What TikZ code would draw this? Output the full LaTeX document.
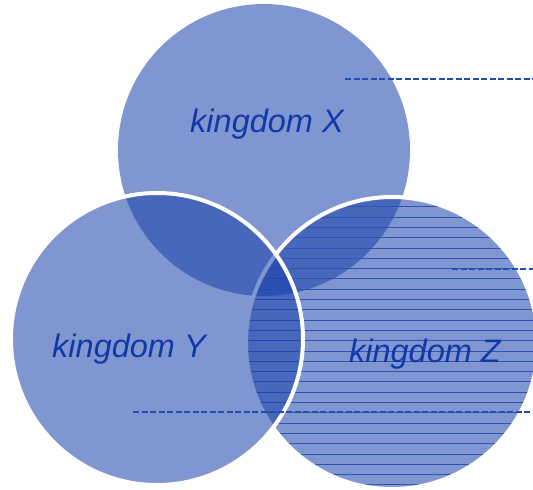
\documentclass[tikz,border=0pt]{standalone}
\usepackage{fontspec}
\setmainfont{Liberation Sans}
\usetikzlibrary{arrows.meta}

\definecolor{kingblue}{RGB}{24,64,170}
\definecolor{textblue}{RGB}{16,56,168}
\definecolor{leaderblue}{RGB}{36,76,178}

\tikzset{
  kingdom/.style={fill=kingblue, fill opacity=0.55},
  rim/.style={draw=white, line width=4pt},
  kinglabel/.style={text=textblue, font=\itshape\fontsize{32.5}{38}\selectfont},
  leader/.style={draw=leaderblue, line width=1.4pt, dash pattern=on 6pt off 2.5pt}
}

\begin{document}
\begin{tikzpicture}[x=1pt,y=-1pt]
            \clip (0,0) rectangle (533,490);

            % kingdom X
            \fill[kingdom] (264,150) circle (146pt);

            % kingdom Z, with its ruling
            \fill[kingdom] (392,343) circle (146pt);
            \begin{scope}
                \clip (392,343) circle (146pt);
                \foreach \k in {0,...,28}
                    \draw[kingblue!90, line width=0.8pt] (240,{206.7+10.3*\k}) -- (540,{206.7+10.3*\k});
            \end{scope}
            \draw[rim] (392,343) circle (146pt);

            % kingdom Y
            \fill[kingdom] (157,339) circle (146pt);
            \draw[rim] (157,339) circle (146pt);

            \node[kinglabel] (labx) at (267,124) {kingdom X};
            \node[kinglabel] (laby) at (129,349) {kingdom Y};
            \node[kinglabel] (labz) at (425,354) {kingdom Z};

            \coordinate (xstart) at (345,79);  \coordinate (xend) at (533,79);
            \coordinate (zstart) at (452,269); \coordinate (zend) at (533,269);
            \coordinate (ystart) at (133,412); \coordinate (yend) at (533,412);
            \draw[leader] (xstart) -- (xend);
            \draw[leader] (zstart) -- (zend);
            \draw[leader] (ystart) -- (yend);
        \end{tikzpicture}
\end{document}
